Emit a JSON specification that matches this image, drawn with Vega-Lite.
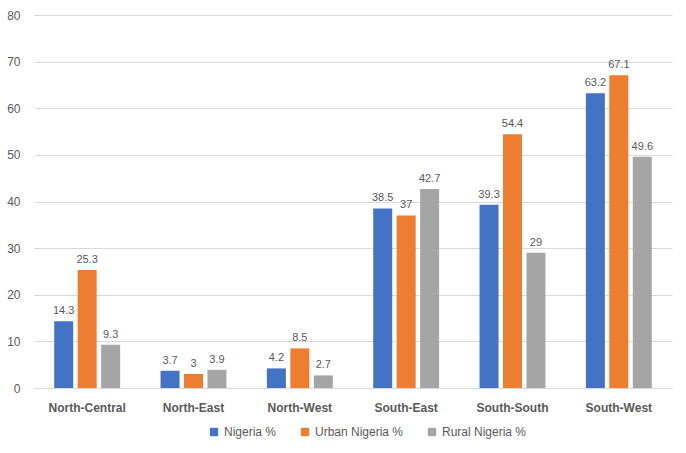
{
  "$schema": "https://vega.github.io/schema/vega-lite/v6.json",
  "width": 638,
  "height": 373,
  "autosize": {"type": "none"},
  "padding": {"left": 34, "top": 15, "right": 14, "bottom": 65},
  "background": "white",
  "config": {
    "view": {"stroke": null},
    "font": "Liberation Sans"
  },
  "data": {
    "values": [
      {"region": "North-Central", "series": "Nigeria %", "value": 14.3},
      {"region": "North-Central", "series": "Urban Nigeria %", "value": 25.3},
      {"region": "North-Central", "series": "Rural Nigeria %", "value": 9.3},
      {"region": "North-East", "series": "Nigeria %", "value": 3.7},
      {"region": "North-East", "series": "Urban Nigeria %", "value": 3},
      {"region": "North-East", "series": "Rural Nigeria %", "value": 3.9},
      {"region": "North-West", "series": "Nigeria %", "value": 4.2},
      {"region": "North-West", "series": "Urban Nigeria %", "value": 8.5},
      {"region": "North-West", "series": "Rural Nigeria %", "value": 2.7},
      {"region": "South-East", "series": "Nigeria %", "value": 38.5},
      {"region": "South-East", "series": "Urban Nigeria %", "value": 37},
      {"region": "South-East", "series": "Rural Nigeria %", "value": 42.7},
      {"region": "South-South", "series": "Nigeria %", "value": 39.3},
      {"region": "South-South", "series": "Urban Nigeria %", "value": 54.4},
      {"region": "South-South", "series": "Rural Nigeria %", "value": 29},
      {"region": "South-West", "series": "Nigeria %", "value": 63.2},
      {"region": "South-West", "series": "Urban Nigeria %", "value": 67.1},
      {"region": "South-West", "series": "Rural Nigeria %", "value": 49.6}
    ]
  },
  "encoding": {
    "x": {
      "field": "region", "type": "nominal", "sort": null, "title": null,
      "scale": {"paddingInner": 0.38, "paddingOuter": 0.19},
      "axis": {
        "labelAngle": 0, "ticks": false, "domainColor": "#D9D9D9",
        "labelFontWeight": "bold", "labelColor": "#595959", "labelFontSize": 12,
        "labelPadding": 14
      }
    },
    "xOffset": {
      "field": "series", "type": "nominal",
      "sort": ["Nigeria %", "Urban Nigeria %", "Rural Nigeria %"],
      "scale": {"paddingInner": 0.19, "paddingOuter": 0}
    },
    "y": {
      "field": "value", "type": "quantitative", "title": null,
      "scale": {"domain": [0, 80], "nice": false},
      "axis": {
        "values": [0, 10, 20, 30, 40, 50, 60, 70, 80],
        "domain": false, "ticks": false, "gridColor": "#D9D9D9",
        "labelColor": "#595959", "labelFontSize": 12, "labelPadding": 14
      }
    }
  },
  "layer": [
    {
      "mark": {"type": "bar"},
      "encoding": {
        "color": {
          "field": "series", "type": "nominal",
          "sort": ["Nigeria %", "Urban Nigeria %", "Rural Nigeria %"],
          "scale": {
            "domain": ["Nigeria %", "Urban Nigeria %", "Rural Nigeria %"],
            "range": ["#4472C4", "#ED7D31", "#A5A5A5"]
          },
          "legend": {
            "orient": "none", "legendX": 174, "legendY": 411,
            "direction": "horizontal", "title": null,
            "symbolType": "square", "symbolSize": 70, "symbolStrokeWidth": 0,
            "labelColor": "#595959", "labelFontSize": 12, "columnPadding": 22
          }
        }
      }
    },
    {
      "mark": {"type": "text", "dy": -10, "fontSize": 11, "color": "#595959"},
      "encoding": {
        "text": {"field": "value", "type": "quantitative"}
      }
    }
  ]
}
